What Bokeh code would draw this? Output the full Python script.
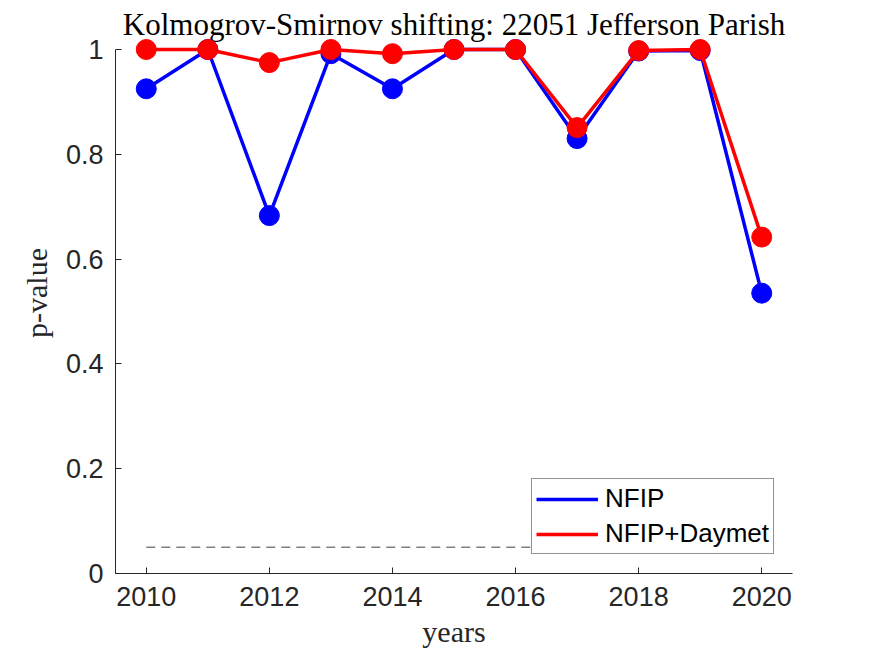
import math
from bokeh.plotting import figure
from bokeh.models import Range1d, FixedTicker, Label, Legend, LegendItem
from bokeh.embed import file_html
from bokeh.resources import INLINE

years = [2010, 2011, 2012, 2013, 2014, 2015, 2016, 2017, 2018, 2019, 2020]
nfip = [0.925, 1.0, 0.683, 0.992, 0.925, 1.0, 1.0, 0.830, 0.997, 0.998, 0.535]
nfip_daymet = [1.0, 1.0, 0.975, 1.0, 0.992, 1.0, 1.0, 0.851, 0.998, 1.0, 0.642]
threshold = 0.05
x_ticks = [2010, 2012, 2014, 2016, 2018, 2020]
y_ticks = [0, 0.2, 0.4, 0.6, 0.8, 1]
y_tick_labels = ["0", "0.2", "0.4", "0.6", "0.8", "1"]
title_text = "Kolmogrov-Smirnov shifting: 22051 Jefferson Parish"

p = figure(width=875, height=656, output_backend="svg", toolbar_location=None,
           title=None, x_range=Range1d(2009.5, 2020.5), y_range=Range1d(0, 1.0706),
           min_border_left=115, min_border_right=83, min_border_top=12, min_border_bottom=83)
p.outline_line_color = None
p.xgrid.visible = False
p.ygrid.visible = False
p.background_fill_color = "white"
p.border_fill_color = "white"

for ax in (p.xaxis[0], p.yaxis[0]):
    ax.axis_line_color = "#262626"
    ax.axis_line_width = 1
    ax.major_tick_line_color = "#262626"
    ax.major_tick_in = 6
    ax.major_tick_out = 0
    ax.minor_tick_in = 0
    ax.minor_tick_out = 0
    ax.major_label_text_font = "Liberation Sans"
    ax.major_label_text_font_size = "27px"
    ax.major_label_text_color = "#262626"
    ax.axis_label_text_font = "Liberation Serif"
    ax.axis_label_text_font_size = "30px"
    ax.axis_label_text_font_style = "normal"
    ax.axis_label_text_color = "#262626"

p.xaxis.ticker = FixedTicker(ticks=x_ticks)
p.xaxis.major_label_standoff = 13
p.xaxis.axis_label = "years"
p.xaxis.axis_label_standoff = 6
p.yaxis.ticker = FixedTicker(ticks=y_ticks)
p.yaxis.major_label_overrides = {t: s for t, s in zip(y_ticks, y_tick_labels)}
p.yaxis.major_label_standoff = 12
p.yaxis.axis_label = "p-value"
p.yaxis.axis_label_standoff = 10
p.yaxis.bounds = (0, 1)

p.add_layout(Label(x=2015, y=1.0305, y_offset=9, text=title_text, text_align="center",
                   text_baseline="alphabetic", text_font="Liberation Serif",
                   text_font_size="31px", text_color="black", level="underlay"))

# threshold dashed line
p.line([years[0], years[-1]], [threshold, threshold], line_color="#808080",
       line_width=1.5, line_dash="9 6")

blue_line = p.line(years, nfip, line_color="#0000ff", line_width=3.5)
p.scatter(years, nfip, size=20, marker="circle", fill_color="#0000ff", line_color="#0000ff")
red_line = p.line(years, nfip_daymet, line_color="#ff0000", line_width=3.5)
p.scatter(years, nfip_daymet, size=20, marker="circle", fill_color="#ff0000", line_color="#ff0000")

legend = Legend(items=[LegendItem(label="NFIP", renderers=[blue_line]),
                       LegendItem(label="NFIP+Daymet", renderers=[red_line])],
                location=(416, 19))
legend.border_line_color = "#262626"
legend.border_line_width = 1
legend.background_fill_color = "white"
legend.background_fill_alpha = 1
legend.label_text_font = "Liberation Sans"
legend.label_text_font_size = "26px"
legend.label_text_color = "black"
legend.glyph_width = 62
legend.glyph_height = 30
legend.label_height = 30
legend.label_standoff = 7
legend.padding = 4
legend.spacing = 4
legend.margin = 0
p.add_layout(legend)

open("out.html", "w").write(file_html(p, INLINE))
